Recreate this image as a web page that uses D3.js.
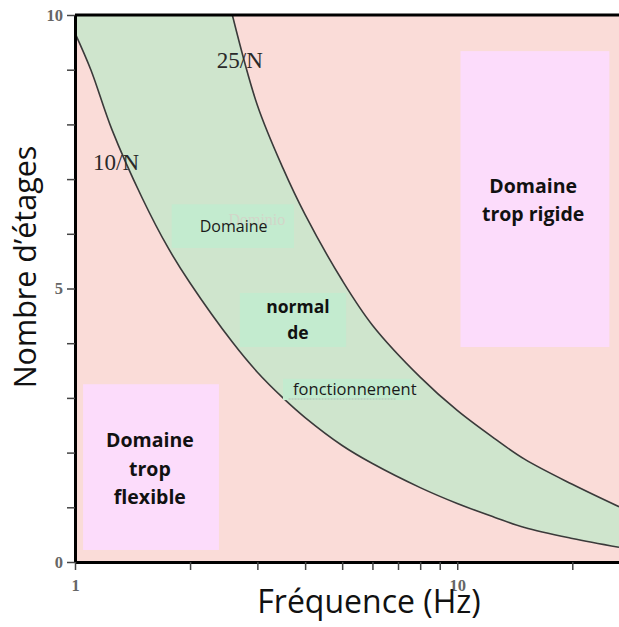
<!DOCTYPE html>
<html>
<head>
<meta charset="utf-8">
<script src="https://cdn.jsdelivr.net/npm/d3@7"></script>
<style>
  body { margin: 0; background: #ffffff; }
  svg { display: block; }
</style>
</head>
<body>
<div id="chart"></div>
<script>
// values (frequency in Hz, number of storeys)
const freq   = [1, 1.1, 1.25, 1.5, 1.75, 2, 2.58, 3, 3.5, 4, 5, 6, 8, 10, 12.5, 15, 20, 26.5];
const lowerN = [9.67, 9.0, 7.9, 6.65, 5.75, 5.1, 4.02, 3.47, 3.0, 2.64, 2.13, 1.8, 1.36, 1.07, 0.82, 0.63, 0.43, 0.27];
const upperN = [null, null, null, null, null, null, 10, 8.35, 7.2, 6.35, 5.15, 4.33, 3.38, 2.77, 2.26, 1.88, 1.42, 1.01];

const curveLabels = ["10/N", "25/N"];
const xTicks = [1, 2, 3, 4, 5, 6, 7, 8, 9, 10, 20];
const xTickLabels = [1, 10];
const yTicks = [0, 1, 2, 3, 4, 5, 6, 7, 8, 9, 10];
const yTickLabels = [0, 5, 10];

const rigidLines = ["Domaine", "trop rigide"];
const flexLines = ["Domaine", "trop", "flexible"];

const width = 619, height = 627;
const margin = {top: 15, right: 0, bottom: 65, left: 75};

const svg = d3.select("#chart").append("svg")
  .attr("width", width)
  .attr("height", height);

const x = d3.scaleLog().domain([1, 26.5]).range([margin.left, width - margin.right]);
const y = d3.scaleLinear().domain([0, 10]).range([height - margin.bottom, margin.top]);

const data = freq.map((f, i) => ({f: f, lo: lowerN[i], hi: upperN[i]}));
const upper = data.filter(d => d.hi != null);

const pink = "#fadcd8", green = "#cfe5cd", lilac = "#fcdcfb", labelGreen = "#c3ebcf";
const sans = "'Open Sans', sans-serif", serif = "'Liberation Serif', 'DejaVu Serif', serif";
const curve = d3.curveCatmullRom.alpha(0.5);

// plot background
svg.append("rect")
  .attr("x", x(1))
  .attr("y", y(10))
  .attr("width", x(26.5) - x(1))
  .attr("height", y(0) - y(10))
  .attr("fill", pink);

// green band: fill above the lower curve, then cover above the upper curve with pink
svg.append("path")
  .datum(data)
  .attr("fill", green)
  .attr("d", d3.area()
    .x(d => x(d.f))
    .y0(d => y(d.lo))
    .y1(y(10))
    .curve(curve));

svg.append("path")
  .datum(upper)
  .attr("fill", pink)
  .attr("d", d3.area()
    .x(d => x(d.f))
    .y0(d => y(d.hi))
    .y1(y(10))
    .curve(curve));

let line = d3.line().curve(curve);

svg.append("path")
  .datum(data)
  .attr("fill", "none")
  .attr("stroke", "#3a3a3a")
  .attr("stroke-width", 1.6)
  .attr("d", line.x(d => x(d.f)).y(d => y(d.lo)));

svg.append("path")
  .datum(upper)
  .attr("fill", "none")
  .attr("stroke", "#3a3a3a")
  .attr("stroke-width", 1.6)
  .attr("d", line.x(d => x(d.f)).y(d => y(d.hi)));

// lilac boxes
function box(f0, f1, n0, n1, fill) {
  return svg.append("rect")
    .attr("x", x(f0))
    .attr("y", y(n1))
    .attr("width", x(f1) - x(f0))
    .attr("height", y(n0) - y(n1))
    .attr("fill", fill);
}

box(10.2, 25.0, 3.93, 9.34, lilac);
box(1.05, 2.38, 0.22, 3.25, lilac);

svg.append("text")
  .attr("font-family", sans)
  .attr("font-size", 19.5)
  .attr("font-weight", "bold")
  .attr("fill", "#111")
  .attr("text-anchor", "middle")
  .selectAll("tspan")
  .data(rigidLines)
  .enter().append("tspan")
  .attr("x", x(15.8))
  .attr("y", (d, i) => 193 + i * 28)
  .text(d => d);

svg.append("text")
  .attr("font-family", sans)
  .attr("font-size", 19.5)
  .attr("font-weight", "bold")
  .attr("fill", "#111")
  .attr("text-anchor", "middle")
  .selectAll("tspan")
  .data(flexLines)
  .enter().append("tspan")
  .attr("x", x(1.57))
  .attr("y", (d, i) => 447 + i * 28.5)
  .text(d => d);

// green label boxes in the band
box(1.79, 3.74, 5.74, 6.54, labelGreen);
box(2.70, 5.12, 3.93, 4.92, labelGreen);
box(3.50, 7.58, 2.96, 3.35, labelGreen);

svg.append("text")
  .attr("x", x(2.52))
  .attr("y", 225)
  .attr("font-family", serif)
  .attr("font-size", 16)
  .attr("fill", "#d2d6c9")
  .text("Dominio");

svg.append("text")
  .attr("x", x(2.6))
  .attr("y", 232)
  .attr("text-anchor", "middle")
  .attr("font-family", sans)
  .attr("font-size", 16)
  .attr("fill", "#1a1a1a")
  .text("Domaine");

svg.append("text")
  .attr("text-anchor", "middle")
  .attr("font-family", sans)
  .attr("font-size", 17.5)
  .attr("font-weight", "bold")
  .attr("fill", "#111")
  .selectAll("tspan")
  .data(["normal", "de"])
  .enter().append("tspan")
  .attr("x", x(3.83))
  .attr("y", (d, i) => 313 + i * 26)
  .text(d => d);

svg.append("line")
  .attr("x1", x(3.62)).attr("x2", x(6.9))
  .attr("y1", 399).attr("y2", 399)
  .attr("stroke", "#b9b9b0")
  .attr("stroke-width", 1)
  .attr("stroke-dasharray", "2,1");

svg.append("text")
  .attr("x", x(3.72))
  .attr("y", 395)
  .attr("font-family", sans)
  .attr("font-size", 16.5)
  .attr("fill", "#1a1a1a")
  .text("fonctionnement");

// curve labels
svg.selectAll(".curve-label")
  .data(curveLabels)
  .enter().append("text")
  .attr("class", "curve-label")
  .attr("x", (d, i) => i == 0 ? x(1.115) : x(2.35))
  .attr("y", (d, i) => i == 0 ? y(7.17) : y(9.03))
  .attr("font-family", serif)
  .attr("font-size", 23)
  .attr("fill", "#2a2a2a")
  .text(d => d);

// axes
let yAxis = svg.append("g")
  .attr("transform", `translate(${x(1)},0)`)
  .call(d3.axisLeft(y)
    .tickValues(yTicks)
    .tickSize(8)
    .tickSizeOuter(0)
    .tickPadding(4)
    .tickFormat(d => yTickLabels.includes(d) ? d : ""));

let xAxis = svg.append("g")
  .attr("transform", `translate(0,${y(0)})`)
  .call(d3.axisBottom(x)
    .tickValues(xTicks)
    .tickSize(8)
    .tickSizeOuter(0)
    .tickPadding(9)
    .tickFormat(d => xTickLabels.includes(d) ? d : ""));

[xAxis, yAxis].forEach(g => {
  g.select(".domain").attr("stroke", "#000").attr("stroke-width", 3);
  g.selectAll(".tick line").attr("stroke", "#444").attr("stroke-width", 1.5);
  g.selectAll(".tick text")
    .attr("font-family", serif)
    .attr("font-size", 16.5)
    .attr("font-weight", "bold")
    .attr("fill", "#666");
});

svg.append("line")
  .attr("x1", x(1)).attr("x2", x(26.5))
  .attr("y1", y(10)).attr("y2", y(10))
  .attr("stroke", "#000")
  .attr("stroke-width", 3);

// axis titles
svg.append("text")
  .attr("x", 369)
  .attr("y", 613)
  .attr("text-anchor", "middle")
  .attr("font-family", sans)
  .attr("font-size", 32)
  .attr("fill", "#111")
  .text("Fréquence (Hz)");

svg.append("text")
  .attr("transform", "translate(36,267) rotate(-90)")
  .attr("text-anchor", "middle")
  .attr("font-family", sans)
  .attr("font-size", 30.5)
  .attr("fill", "#111")
  .text("Nombre d’étages");
</script>
</body>
</html>
